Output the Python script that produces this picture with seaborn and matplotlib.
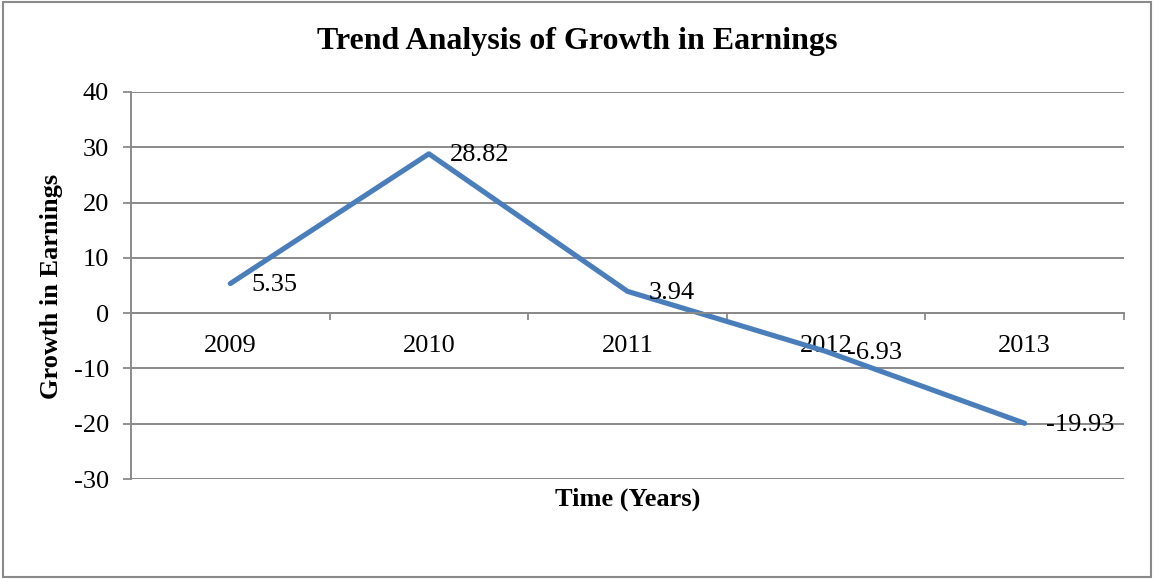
import pandas as pd
import seaborn as sns
import matplotlib.pyplot as plt
from matplotlib.patches import Rectangle

# data
years = ["2009", "2010", "2011", "2012", "2013"]
growth = [5.35, 28.82, 3.94, -6.93, -19.93]
y_ticks = [-30, -20, -10, 0, 10, 20, 30, 40]

sns.set_theme(style="white")
plt.rcParams["font.family"] = ["Liberation Serif", "DejaVu Serif"]
plt.rcParams["axes.unicode_minus"] = False
plt.rcParams["text.color"] = "black"

GRID = "#8a8a8a"
LINE = "#4A7EBB"

df = pd.DataFrame({"year": years, "growth": growth})

W, H = 1154, 579
fig = plt.figure(figsize=(W / 100, H / 100), dpi=100)
ax = fig.add_axes([131 / W, 1 - 479 / H, (1124 - 131) / W, (479 - 92) / H])

sns.lineplot(data=df, x="year", y="growth", ax=ax, color=LINE,
             linewidth=3.7, sort=False, solid_capstyle="round")

# data labels to the right of each point
for i, v in enumerate(growth):
    ax.annotate(f"{v:.2f}", (i, v), xytext=(15, -1), textcoords="offset points",
                ha="left", va="center", fontsize=19, color="black")

# y axis
ax.set_ylim(-30, 40)
ax.set_yticks(y_ticks)
ax.yaxis.grid(True, color=GRID, linewidth=1.4)
ax.set_axisbelow(True)
ax.tick_params(axis="y", which="major", left=True, direction="out", length=6,
               width=1.3, color=GRID, pad=10, labelsize=19, labelcolor="black")

# x axis sitting on the zero line, category ticks between the labels
ax.set_xlim(-0.5, len(years) - 0.5)
ax.spines["bottom"].set_position(("data", 0))
ax.set_xticks(range(len(years)))
ax.set_xticklabels(years)
ax.set_xticks([i + 0.5 for i in range(len(years))], minor=True)
ax.tick_params(axis="x", which="major", length=0, pad=16, labelsize=19,
               labelcolor="black")
ax.tick_params(axis="x", which="minor", bottom=True, direction="out", length=5,
               width=1.3, color=GRID)

for side in ["top", "right"]:
    ax.spines[side].set_visible(False)
for side in ["left", "bottom"]:
    ax.spines[side].set_color(GRID)
    ax.spines[side].set_linewidth(1.4)

ax.set_xlabel("")
ax.set_ylabel("")

fig.text(577 / W, 1 - 42 / H, "Trend Analysis of Growth in Earnings",
         ha="center", va="center", fontsize=23, fontweight="bold", color="black")
fig.text(52 / W, 1 - 286 / H, "Growth in Earnings", rotation=90,
         ha="center", va="center", fontsize=19, fontweight="bold", color="black")
fig.text(628 / W, 1 - 499 / H, "Time (Years)",
         ha="center", va="center", fontsize=19, fontweight="bold", color="black")

# chart area border
fig.patches.append(Rectangle((3 / W, 2 / H), (1151 - 3) / W, (577 - 2) / H,
                             transform=fig.transFigure, fill=False,
                             edgecolor=GRID, linewidth=1.5))

fig.savefig("out.png", dpi=100)
plt.close(fig)
